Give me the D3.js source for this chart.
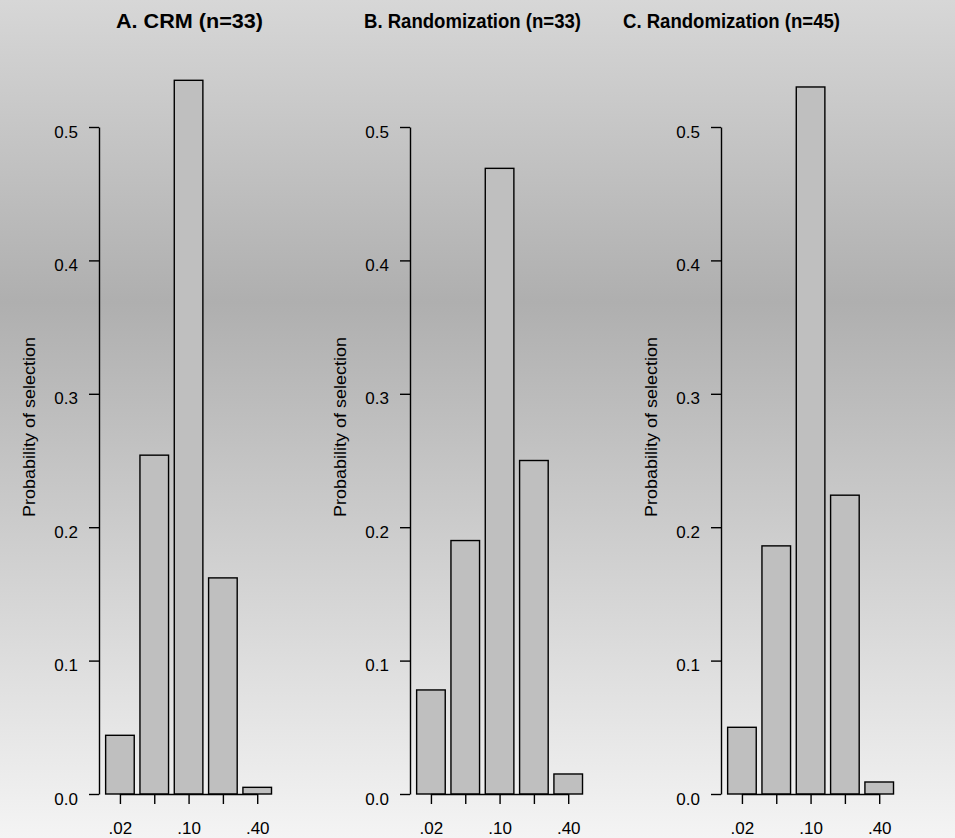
<!DOCTYPE html>
<html>
<head>
<meta charset="utf-8">
<script src="https://cdn.jsdelivr.net/npm/d3@7"></script>
<style>
  html, body { margin: 0; padding: 0; }
  svg { display: block; font-family: "Liberation Sans", Arial, Helvetica, sans-serif; }
</style>
</head>
<body>
<svg id="chart" width="955" height="838"></svg>
<script>
// Probability of selecting each dose level as the MTD, by design
const doseLabels = [".02", "", ".10", "", ".40"];
const panelTitles = ["A. CRM (n=33)", "B. Randomization (n=33)", "C. Randomization (n=45)"];
const crmN33 = [0.044, 0.254, 0.535, 0.162, 0.005];
const randomN33 = [0.078, 0.190, 0.469, 0.250, 0.015];
const randomN45 = [0.050, 0.186, 0.530, 0.224, 0.009];
const yTicks = [0.0, 0.1, 0.2, 0.3, 0.4, 0.5];
const yLabel = "Probability of selection";

const panels = [crmN33, randomN33, randomN45].map((values, i) => ({ values, title: panelTitles[i] }));

// layout
const W = 955, H = 838;
const firstAxisX = 99, panelStep = 311;
const unitPx = 28.6;               // px per bar-width unit (bar width 1, space 0.2)
const xDomain = [-0.032, 6.232];
const yBottom = 794, yTop = 127;
const titleCenters = [189.5, 472.5, 731.5];
const titleWidths = [147, 217, 217];

const svg = d3.select("#chart");

// background: light at top and bottom, darker band in the upper middle
const defs = svg.append("defs");
const grad = defs.append("linearGradient")
  .attr("id", "bg").attr("x1", 0).attr("y1", 0).attr("x2", 0).attr("y2", 1);
[[0, "#d7d7d7"], [0.36, "#afafaf"], [1, "#f4f4f4"]].forEach(([o, c]) =>
  grad.append("stop").attr("offset", o).attr("stop-color", c));
svg.append("rect").attr("width", W).attr("height", H).attr("fill", "url(#bg)");

const y = d3.scaleLinear().domain([0, 0.5]).range([yBottom, yTop]);

panels.forEach((p, pi) => {
  const left = firstAxisX + pi * panelStep;
  const x = d3.scaleLinear().domain(xDomain)
    .range([left, left + (xDomain[1] - xDomain[0]) * unitPx]);
  const g = svg.append("g");

  const barLeft = i => 0.2 + 1.2 * i;
  const mids = p.values.map((_, i) => barLeft(i) + 0.5);

  // bars
  g.selectAll("rect.bar").data(p.values).join("rect")
    .attr("class", "bar")
    .attr("x", (d, i) => x(barLeft(i)))
    .attr("width", (d, i) => x(barLeft(i) + 1) - x(barLeft(i)))
    .attr("y", d => y(d))
    .attr("height", d => y(0) - y(d))
    .attr("fill", "#bfbfbf")
    .attr("stroke", "#000")
    .attr("stroke-width", 1.4);

  // y axis
  const ya = g.append("g")
    .attr("transform", `translate(${left},0)`)
    .call(d3.axisLeft(y).tickValues(yTicks).tickSize(10).tickSizeOuter(0)
      .tickFormat(d3.format(".1f")));
  ya.select(".domain").attr("stroke", "#000").attr("stroke-width", 1.4);
  ya.selectAll(".tick line").attr("stroke", "#000").attr("stroke-width", 1.4);
  ya.selectAll(".tick text")
    .attr("x", -21).attr("dy", null).attr("y", 10)
    .attr("font-size", 17).attr("fill", "#000")
    .attr("font-family", "\"Liberation Sans\", Arial, sans-serif");

  // x axis: ticks at bar midpoints, line spans first to last tick
  const xa = g.append("g")
    .attr("transform", `translate(0,${yBottom})`)
    .call(d3.axisBottom(x).tickValues(mids).tickSize(10)
      .tickFormat((d, i) => doseLabels[i]));
  xa.select(".domain").remove();
  xa.append("line")
    .attr("x1", x(mids[0])).attr("x2", x(mids[mids.length - 1]))
    .attr("y1", 0.5).attr("y2", 0.5)
    .attr("stroke", "#000").attr("stroke-width", 1.4);
  xa.selectAll(".tick line").attr("stroke", "#000").attr("stroke-width", 1.4);
  xa.selectAll(".tick text")
    .attr("y", 40).attr("dy", null)
    .attr("font-size", 17).attr("fill", "#000")
    .attr("font-family", "\"Liberation Sans\", Arial, sans-serif");

  // y axis title
  g.append("text")
    .attr("transform", `translate(${left - 64},427) rotate(-90)`)
    .attr("text-anchor", "middle")
    .attr("font-size", 17)
    .attr("textLength", 180)
    .attr("lengthAdjust", "spacingAndGlyphs")
    .text(yLabel);

  // panel title
  g.append("text")
    .attr("x", titleCenters[pi] - titleWidths[pi] / 2)
    .attr("y", 28)
    .attr("font-size", 21)
    .attr("font-weight", "bold")
    .attr("textLength", titleWidths[pi])
    .attr("lengthAdjust", "spacingAndGlyphs")
    .text(p.title);
});
</script>
</body>
</html>
